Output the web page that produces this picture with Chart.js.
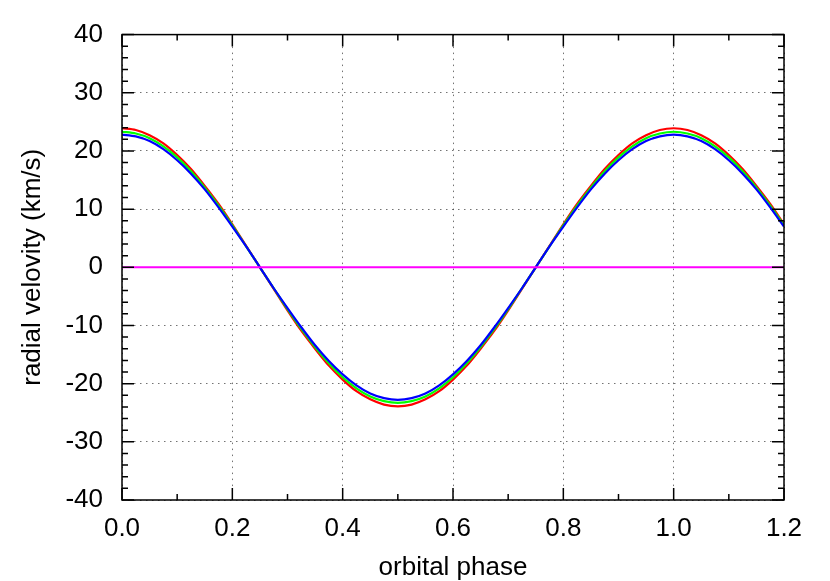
<!DOCTYPE html>
<html>
<head>
<meta charset="utf-8">
<script src="https://cdn.jsdelivr.net/npm/chart.js@4.4.1/dist/chart.umd.min.js"></script>
<style>
  html, body { margin: 0; padding: 0; background: #ffffff; }
  #wrap { width: 830px; height: 581px; }
</style>
</head>
<body>
<div id="wrap"><canvas id="c" width="830" height="581"></canvas></div>
<script>
// ---- data ----
const phase = [0.000,0.025,0.050,0.075,0.100,0.125,0.150,0.175,0.200,0.225,
               0.250,0.275,0.300,0.325,0.350,0.375,0.400,0.425,0.450,0.475,
               0.500,0.525,0.550,0.575,0.600,0.625,0.650,0.675,0.700,0.725,
               0.750,0.775,0.800,0.825,0.850,0.875,0.900,0.925,0.950,0.975,
               1.000,1.025,1.050,1.075,1.100,1.125,1.150,1.175,1.200];
const rvRed = [23.9,23.6,22.7,21.3,19.3,16.9,14.0,10.9,7.4,3.7,
               0.0,-3.7,-7.4,-10.9,-14.0,-16.9,-19.3,-21.3,-22.7,-23.6,
               -23.9,-23.6,-22.7,-21.3,-19.3,-16.9,-14.0,-10.9,-7.4,-3.7,
               0.0,3.7,7.4,10.9,14.0,16.9,19.3,21.3,22.7,23.6,
               23.9,23.6,22.7,21.3,19.3,16.9,14.0,10.9,7.4];
const rvGreen = [23.3,23.0,22.2,20.8,18.9,16.5,13.7,10.6,7.2,3.6,
                 0.0,-3.6,-7.2,-10.6,-13.7,-16.5,-18.9,-20.8,-22.2,-23.0,
                 -23.3,-23.0,-22.2,-20.8,-18.9,-16.5,-13.7,-10.6,-7.2,-3.6,
                 0.0,3.6,7.2,10.6,13.7,16.5,18.9,20.8,22.2,23.0,
                 23.3,23.0,22.2,20.8,18.9,16.5,13.7,10.6,7.2];
const rvBlue = [22.8,22.5,21.7,20.3,18.4,16.1,13.4,10.3,7.0,3.6,
                0.0,-3.6,-7.0,-10.3,-13.4,-16.1,-18.4,-20.3,-21.7,-22.5,
                -22.8,-22.5,-21.7,-20.3,-18.4,-16.1,-13.4,-10.3,-7.0,-3.6,
                0.0,3.6,7.0,10.3,13.4,16.1,18.4,20.3,21.7,22.5,
                22.8,22.5,21.7,20.3,18.4,16.1,13.4,10.3,7.0];
const zeroPhase = [0.0, 1.2];
const zeroLine = [0, 0];
const xTicks = [0.0, 0.2, 0.4, 0.6, 0.8, 1.0, 1.2];
const yTicks = [-40, -30, -20, -10, 0, 10, 20, 30, 40];
const xTitle = "orbital phase";
const yTitle = "radial velovity (km/s)";

// ---- build points ----
const pts = (xs, ys) => xs.map((x, i) => ({x: x, y: ys[i]}));

const FONT = "'Liberation Sans', Arial, Helvetica, sans-serif";
const FS = 26;

// frame + inward mirrored tics (gnuplot style)
const framePlugin = {
  id: 'frame',
  afterDatasetsDraw(chart) {
    const {ctx, chartArea: a, scales: {x, y}} = chart;
    ctx.save();
    ctx.strokeStyle = '#000';
    ctx.lineWidth = 1.5;
    ctx.beginPath();
    const xt = [];
    for (let i = 0; i < xTicks.length; i++) {
      xt.push([xTicks[i], 12]);
      if (i < xTicks.length - 1) xt.push([(xTicks[i] + xTicks[i + 1]) / 2, 6]);
    }
    xt.forEach(([v, len]) => {
      const px = x.getPixelForValue(v);
      ctx.moveTo(px, a.bottom); ctx.lineTo(px, a.bottom - len);
      ctx.moveTo(px, a.top); ctx.lineTo(px, a.top + len);
    });
    const yt = [];
    for (let i = 0; i < yTicks.length; i++) {
      yt.push([yTicks[i], 12]);
      if (i < yTicks.length - 1) {
        const step = (yTicks[i + 1] - yTicks[i]) / 5;
        for (let k = 1; k < 5; k++) yt.push([yTicks[i] + k * step, 6]);
      }
    }
    yt.forEach(([v, len]) => {
      const py = y.getPixelForValue(v);
      ctx.moveTo(a.left, py); ctx.lineTo(a.left + len, py);
      ctx.moveTo(a.right, py); ctx.lineTo(a.right - len, py);
    });
    ctx.stroke();
    ctx.strokeRect(a.left, a.top, a.right - a.left, a.bottom - a.top);
    ctx.restore();
  }
};

const gridOpts = {
  display: true,
  drawTicks: false,
  tickLength: 0,
  color: 'rgba(0,0,0,0.55)',
  lineWidth: 1
};

new Chart(document.getElementById('c'), {
  type: 'line',
  data: {
    datasets: [
      { label: 'zero', data: pts(zeroPhase, zeroLine), borderColor: '#ff00ff', borderWidth: 2, pointRadius: 0, tension: 0 },
      { label: 'blue', data: pts(phase, rvBlue), borderColor: '#0000ff', borderWidth: 2.2, pointRadius: 0, tension: 0.3 },
      { label: 'green', data: pts(phase, rvGreen), borderColor: '#00ff00', borderWidth: 2.2, pointRadius: 0, tension: 0.3 },
      { label: 'red', data: pts(phase, rvRed), borderColor: '#ff0000', borderWidth: 2.2, pointRadius: 0, tension: 0.3 }
    ]
  },
  options: {
    responsive: false,
    animation: false,
    devicePixelRatio: 1,
    layout: { padding: { left: 0, right: 46, top: 32, bottom: 0 } },
    plugins: { legend: { display: false }, tooltip: { enabled: false } },
    scales: {
      x: {
        type: 'linear',
        min: 0, max: 1.2,
        afterBuildTicks: (s) => { s.ticks = xTicks.map(v => ({value: v})); },
        afterFit: (s) => { s.height = 81; },
        ticks: {
          padding: 13,
          color: '#000',
          font: { family: FONT, size: FS },
          maxRotation: 0,
          autoSkip: false,
          callback: (v) => Number(v).toFixed(1)
        },
        grid: Object.assign({}, gridOpts),
        border: { display: false, dash: [1.5, 4.5] },
        title: {
          display: true, text: xTitle, color: '#000',
          font: { family: FONT, size: FS, lineHeight: 1 },
          padding: { top: 0, bottom: 0 }
        }
      },
      y: {
        type: 'linear',
        min: -40, max: 40,
        afterBuildTicks: (s) => { s.ticks = yTicks.map(v => ({value: v})); },
        afterFit: (s) => { s.width = 122; },
        ticks: {
          padding: 19,
          color: '#000',
          font: { family: FONT, size: FS },
          autoSkip: false,
          callback: (v) => String(v)
        },
        grid: Object.assign({}, gridOpts),
        border: { display: false, dash: [1.5, 4.5] },
        title: {
          display: true, text: yTitle, color: '#000',
          font: { family: FONT, size: FS, lineHeight: 1 },
          padding: { top: 20, bottom: 0 }
        }
      }
    }
  },
  plugins: [framePlugin]
});
</script>
</body>
</html>
